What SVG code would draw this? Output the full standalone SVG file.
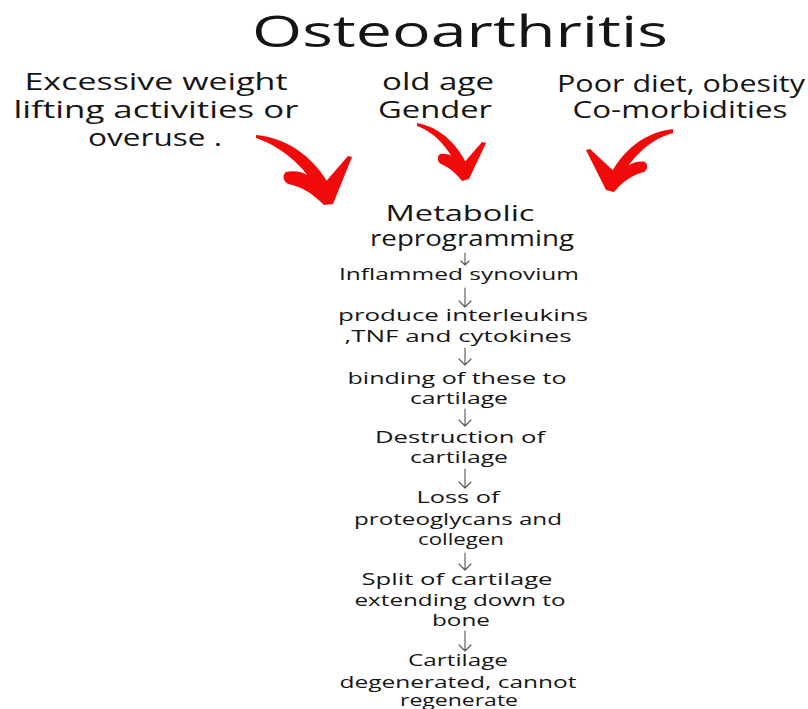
<svg xmlns="http://www.w3.org/2000/svg" width="808" height="709" viewBox="0 0 808 709">
<style>
text{font-family:"Open Sans","Noto Sans","DejaVu Sans",sans-serif;fill:#151515;text-anchor:middle}
.t{font-size:44px}
.c{font-size:23px}
.m{font-size:21px}
.s{font-size:16px}
.red{fill:#f00a0a}
.dn{stroke:#555;stroke-width:1.1;fill:none;stroke-linecap:round;stroke-linejoin:round}
</style>
<rect width="808" height="709" fill="#fff"/>
<g id="title"><text class="t" x="460" y="47" textLength="416" lengthAdjust="spacingAndGlyphs">Osteoarthritis</text></g>
<g id="cause-weight">
<text class="c" x="156" y="90" textLength="263" lengthAdjust="spacingAndGlyphs">Excessive weight</text>
<text class="c" x="156" y="118" textLength="285" lengthAdjust="spacingAndGlyphs">lifting activities or</text>
<text class="c" x="155" y="146" textLength="134" lengthAdjust="spacingAndGlyphs">overuse .</text>
</g>
<g id="cause-age">
<text class="c" x="438" y="90" textLength="112" lengthAdjust="spacingAndGlyphs">old age</text>
<text class="c" x="435" y="118" textLength="114" lengthAdjust="spacingAndGlyphs">Gender</text>
</g>
<g id="cause-diet">
<text class="c" x="681" y="92" textLength="248" lengthAdjust="spacingAndGlyphs">Poor diet, obesity</text>
<text class="c" x="680" y="118" textLength="215" lengthAdjust="spacingAndGlyphs">Co-morbidities</text>
</g>
<g id="step1"><text class="m" x="460" y="221" textLength="149" lengthAdjust="spacingAndGlyphs">Metabolic</text>
<text class="m" x="472" y="246" textLength="204" lengthAdjust="spacingAndGlyphs">reprogramming</text></g>
<g id="step2"><text class="s" x="459" y="280" textLength="240" lengthAdjust="spacingAndGlyphs">Inflammed synovium</text></g>
<g id="step3"><text class="s" x="463" y="321" textLength="250" lengthAdjust="spacingAndGlyphs">produce interleukins</text>
<text class="s" x="458" y="342" textLength="227" lengthAdjust="spacingAndGlyphs">,TNF and cytokines</text></g>
<g id="step4"><text class="s" x="457" y="384" textLength="219" lengthAdjust="spacingAndGlyphs">binding of these to</text>
<text class="s" x="459" y="404" textLength="98" lengthAdjust="spacingAndGlyphs">cartilage</text></g>
<g id="step5"><text class="s" x="460" y="443" textLength="170" lengthAdjust="spacingAndGlyphs">Destruction of</text>
<text class="s" x="459" y="463" textLength="98" lengthAdjust="spacingAndGlyphs">cartilage</text></g>
<g id="step6"><text class="s" x="458" y="503" textLength="83" lengthAdjust="spacingAndGlyphs">Loss of</text>
<text class="s" x="458" y="525" textLength="208" lengthAdjust="spacingAndGlyphs">proteoglycans and</text>
<text class="s" x="461" y="545" textLength="86" lengthAdjust="spacingAndGlyphs">collegen</text></g>
<g id="step7"><text class="s" x="457" y="585" textLength="191" lengthAdjust="spacingAndGlyphs">Split of cartilage</text>
<text class="s" x="460" y="606" textLength="211" lengthAdjust="spacingAndGlyphs">extending down to</text>
<text class="s" x="461" y="626" textLength="58" lengthAdjust="spacingAndGlyphs">bone</text></g>
<g id="step8"><text class="s" x="458" y="666" textLength="100" lengthAdjust="spacingAndGlyphs">Cartilage</text>
<text class="s" x="458" y="688" textLength="237" lengthAdjust="spacingAndGlyphs">degenerated, cannot</text>
<text class="s" x="459" y="706" textLength="118" lengthAdjust="spacingAndGlyphs">regenerate</text></g>
<g id="connectors">
<path class="red" d="M256,135 C290,138 318,160 334,194 L322,198 C308,170 285,148 256,138 Z"/>
<path class="red" d="M286,172 C300,169 313,176 322,186 L348,156 L352,157 L333,204 L324,205 C312,193 300,186 288,184 C283,181 282,175 286,172 Z"/>
<path class="red" d="M417,123 C440,127 460,145 470,172 L461,176 C452,152 437,133 417,126 Z"/>
<path class="red" d="M440,154 C450,153 457,158 462,165 L482,142 L486,143 L469,179 L462,181 C455,172 448,167 441,164 C437,162 437,156 440,154 Z"/>
<path class="red" d="M673,129 C640,133 618,155 606,184 L616,188 C628,160 648,140 673,133 Z"/>
<path class="red" d="M645,162 C635,160 625,166 618,175 L590,149 L586,150 L606,190 L614,192 C622,182 632,175 644,172 C648,170 648,164 645,162 Z"/>
<path class="dn" d="M465,253 V265 M461,261 L465,265 L469,261"/>
<path class="dn" d="M465,288 V307 M459,301 L465,307 L471,301"/>
<path class="dn" d="M465,348 V365 M459,359 L465,365 L471,359"/>
<path class="dn" d="M465,409 V426 M459,420 L465,426 L471,420"/>
<path class="dn" d="M465,469 V488 M459,482 L465,488 L471,482"/>
<path class="dn" d="M465,553 V570 M459,564 L465,570 L471,564"/>
<path class="dn" d="M465,631 V651 M459,645 L465,651 L471,645"/>
</g>
</svg>
